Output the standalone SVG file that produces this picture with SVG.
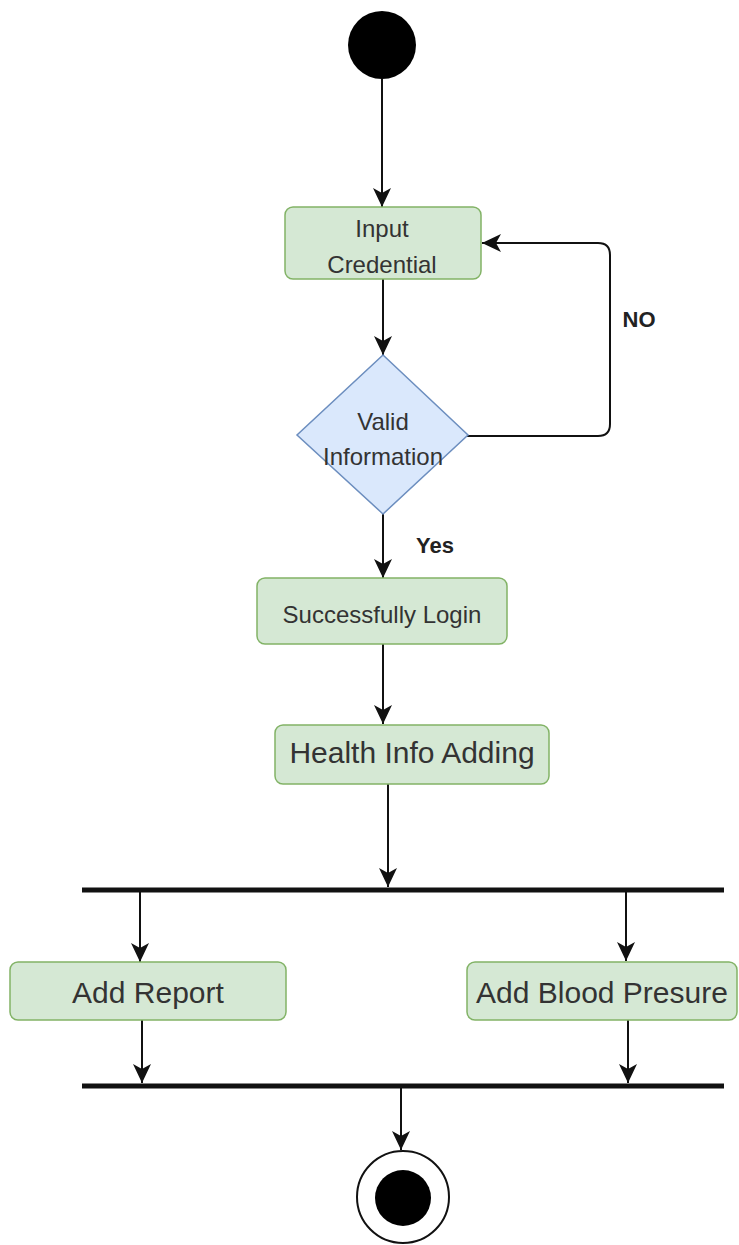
<svg xmlns="http://www.w3.org/2000/svg" width="739" height="1245" viewBox="0 0 739 1245">
  <style>
    .action { fill: #d5e8d4; stroke: #82b366; stroke-width: 1.5; }
    .decision { fill: #dae8fc; stroke: #6c8ebf; stroke-width: 1.5; }
    .label { font-family: "Liberation Sans", Arial, sans-serif; fill: #333333; text-anchor: middle; }
    .guard { font-family: "Liberation Sans", Arial, sans-serif; fill: #222222; font-weight: bold; text-anchor: middle; }
    .flow { fill: none; stroke: #111111; stroke-width: 2; marker-end: url(#arrow); }
    .bar { stroke: #111111; stroke-width: 5; }
  </style>
  <defs>
    <marker id="arrow" viewBox="0 0 20 20" refX="19" refY="10" markerWidth="20" markerHeight="20" markerUnits="userSpaceOnUse" orient="auto">
      <path d="M0,1 L19,10 L0,19 L5,10 Z" fill="#111111"/>
    </marker>
  </defs>
  <rect width="739" height="1245" fill="#ffffff"/>

  <!-- control flow -->
  <g id="connectors">
    <line class="flow" x1="382" y1="79" x2="382" y2="207"/>
    <line class="flow" x1="383" y1="279" x2="383" y2="355"/>
    <path class="flow" d="M467,436 H598 Q610,436 610,424 V255 Q610,243 598,243 H482"/>
    <line class="flow" x1="383" y1="514" x2="383" y2="578"/>
    <line class="flow" x1="383" y1="644" x2="383" y2="724"/>
    <line class="flow" x1="388" y1="784" x2="388" y2="887"/>
    <line class="flow" x1="140" y1="891" x2="140" y2="962"/>
    <line class="flow" x1="626" y1="891" x2="626" y2="961"/>
    <line class="flow" x1="142" y1="1020" x2="142" y2="1083"/>
    <line class="flow" x1="628" y1="1020" x2="628" y2="1083"/>
    <line class="flow" x1="401" y1="1087" x2="401" y2="1150"/>
    <text class="guard" x="639" y="327" font-size="22">NO</text>
    <text class="guard" x="435" y="553" font-size="22">Yes</text>
  </g>

  <g id="start">
    <circle cx="382" cy="45" r="34" fill="#000000"/>
  </g>

  <g id="input-credential">
    <rect class="action" x="285" y="207" width="196" height="72" rx="8"/>
    <text class="label" x="382" y="237" font-size="24">Input</text>
    <text class="label" x="382" y="273" font-size="24">Credential</text>
  </g>

  <g id="valid-information">
    <polygon class="decision" points="383,355 468,435 383,514 297,435"/>
    <text class="label" x="383" y="430" font-size="24">Valid</text>
    <text class="label" x="383" y="465" font-size="24">Information</text>
  </g>

  <g id="successfully-login">
    <rect class="action" x="257" y="578" width="250" height="66" rx="8"/>
    <text class="label" x="382" y="623" font-size="24">Successfully Login</text>
  </g>

  <g id="health-info-adding">
    <rect class="action" x="275" y="725" width="274" height="59" rx="8"/>
    <text class="label" x="412" y="763" font-size="30">Health Info Adding</text>
  </g>

  <g id="fork">
    <line class="bar" x1="82" y1="890" x2="724" y2="890"/>
  </g>

  <g id="add-report">
    <rect class="action" x="10" y="962" width="276" height="58" rx="8"/>
    <text class="label" x="148" y="1003" font-size="30">Add Report</text>
  </g>

  <g id="add-blood-presure">
    <rect class="action" x="467" y="962" width="270" height="58" rx="8"/>
    <text class="label" x="602" y="1003" font-size="30">Add Blood Presure</text>
  </g>

  <g id="join">
    <line class="bar" x1="82" y1="1086" x2="724" y2="1086"/>
  </g>

  <g id="end">
    <circle cx="403" cy="1197" r="46" fill="#ffffff" stroke="#111111" stroke-width="2"/>
    <circle cx="403" cy="1198" r="28" fill="#000000"/>
  </g>
</svg>
